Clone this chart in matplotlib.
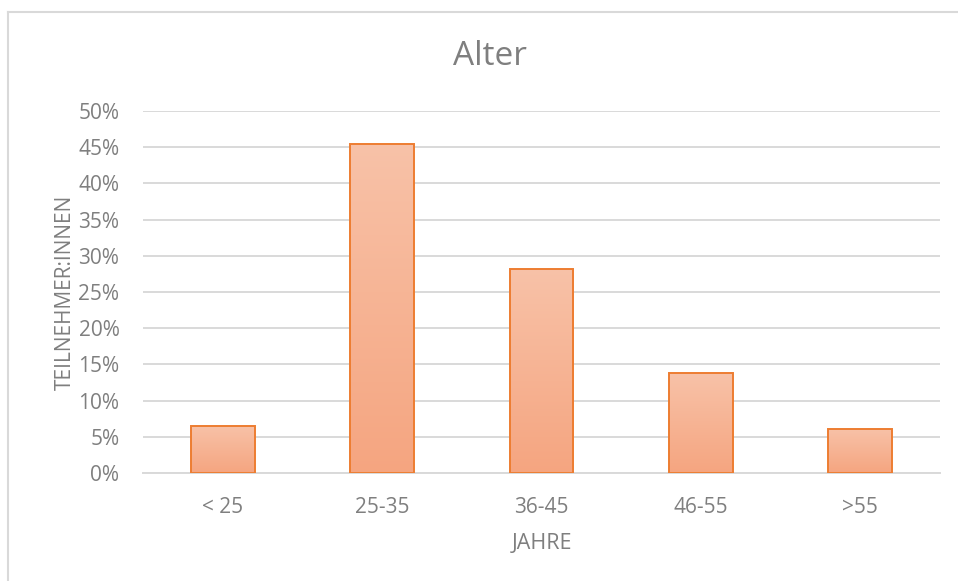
import matplotlib
matplotlib.use("Agg")
import matplotlib.pyplot as plt
import numpy as np
from matplotlib.colors import LinearSegmentedColormap
from matplotlib.ticker import PercentFormatter
from matplotlib.lines import Line2D

plt.rcParams["font.family"] = ["Open Sans", "DejaVu Sans"]

# age groups and share of participants (%)
groups = ["< 25", "25-35", "36-45", "46-55", ">55"]
shares = [6.5, 45.4, 28.2, 13.8, 6.1]

TEXT = "#7F7F7F"
GRID = "#D9D9D9"
EDGE = "#ED7D31"
fade = LinearSegmentedColormap.from_list("fade", ["#F5A580", "#F8C2A8"])

fig = plt.figure(figsize=(9.58, 5.81), dpi=100)
ax = fig.add_axes([0.1493, 0.1859, 0.9812 - 0.1493, 0.8090 - 0.1859])

x = np.arange(len(groups))
bars = ax.bar(x, shares, width=0.4, color="none", edgecolor=EDGE, linewidth=1.4, zorder=3)

# vertical gradient inside each bar
grad = np.linspace(0, 1, 256).reshape(-1, 1)
for b in bars:
    x0, w, h = b.get_x(), b.get_width(), b.get_height()
    im = ax.imshow(grad, cmap=fade, aspect="auto", origin="lower",
                   extent=[x0, x0 + w, 0, h], zorder=2)
    im.set_clip_path(b)

ax.set_xlim(-0.5, len(groups) - 0.5)
ax.set_ylim(0, 50)
ax.set_yticks(np.arange(0, 51, 5))
ax.yaxis.set_major_formatter(PercentFormatter(decimals=0))
ax.set_xticks(x)
ax.set_xticklabels(groups)
ax.grid(axis="y", color=GRID, linewidth=1.4, zorder=0)
ax.set_axisbelow(True)
for s in ["top", "right", "left"]:
    ax.spines[s].set_visible(False)
ax.spines["bottom"].set_color(GRID)
ax.spines["bottom"].set_linewidth(1.4)
ax.tick_params(length=0, colors=TEXT, labelsize=15)
ax.tick_params(axis="x", pad=17)
ax.tick_params(axis="y", pad=17)

ax.set_xlabel("JAHRE", color=TEXT, fontsize=15.5, labelpad=11)
ax.set_ylabel("TEILNEHMER:INNEN", color=TEXT, fontsize=15, labelpad=2)
fig.text(0.511, 0.902, "Alter", ha="center", va="center", color=TEXT, fontsize=24)

# chart frame (left and top edges)
fig.add_artist(Line2D([8 / 958, 8 / 958], [0, 1 - 12 / 581], color=GRID, linewidth=1.5))
fig.add_artist(Line2D([8 / 958, 1], [1 - 12 / 581, 1 - 12 / 581], color=GRID, linewidth=1.5))

fig.savefig("out.png", dpi=100, facecolor="white")
